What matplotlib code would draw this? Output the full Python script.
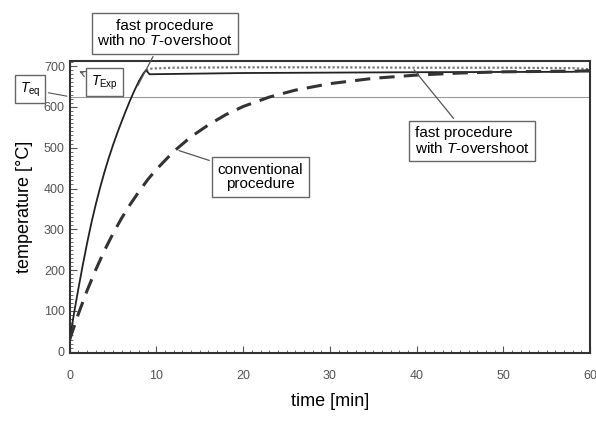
import numpy as np
import matplotlib
matplotlib.use("Agg")
import matplotlib.pyplot as plt
from matplotlib.ticker import MultipleLocator

plt.rcParams['font.family'] = ['Liberation Sans', 'DejaVu Sans']
plt.rcParams['mathtext.fontset'] = 'custom'
plt.rcParams['mathtext.rm'] = 'Liberation Sans'
plt.rcParams['mathtext.it'] = 'Liberation Sans:italic'

# fast procedure, no overshoot (solid)
t_fast = [0, 0.5, 1, 1.5, 2, 2.5, 3, 3.5, 4, 4.5, 5, 5.5, 6, 6.5, 7, 7.5, 8, 8.5, 8.8,
          9.2, 20, 40, 58, 60]
T_fast = [30, 95, 155, 212, 266, 316, 361, 402, 440, 475, 507, 537, 565, 592, 618, 642, 664, 682, 690,
          680, 683, 685, 686, 690]

# fast procedure with overshoot (dotted)
t_over = [8.8, 9.5, 12, 20, 30, 40, 50, 58, 60]
T_over = [690, 694, 696, 697, 697, 696, 696, 695, 692]

# conventional procedure (dashed)
t_conv = [0, 1, 2, 3, 4, 5, 6, 7, 8, 9, 10, 12, 14, 16, 18, 20, 23, 26, 30, 35, 40, 45, 50, 55, 60]
T_conv = [30, 93, 150, 201, 248, 290, 328, 362, 393, 422, 447, 491, 527, 556, 581, 601, 624, 641,
          657, 670, 678, 683, 686, 687, 688]

T_eq = 625

fig = plt.figure(figsize=(5.96, 4.22), dpi=100)
ax = fig.add_axes([0.117, 0.1635, 0.873, 0.6915])

ax.axhline(T_eq, color='#999999', lw=0.8, zorder=1)
ax.plot(t_fast, T_fast, color='#222222', lw=1.3, zorder=3)
ax.plot(t_over, T_over, color='#777777', lw=1.6, ls=(0, (1, 1)), zorder=2)
ax.plot(t_conv, T_conv, color='#333333', lw=2.2, ls=(0, (5, 3)), zorder=3)

ax.set_xlim(0, 60)
ax.set_ylim(-3, 712)
ax.xaxis.set_major_locator(MultipleLocator(10))
ax.xaxis.set_minor_locator(MultipleLocator(1))
ax.yaxis.set_major_locator(MultipleLocator(100))
ax.yaxis.set_minor_locator(MultipleLocator(10))
ax.tick_params(which='both', direction='in', colors='#555555', labelcolor='#555555', labelsize=9)
ax.tick_params(which='major', length=5, width=0.8)
ax.tick_params(which='minor', length=2.5, width=0.6)
ax.tick_params(axis='x', pad=12)
for s in ax.spines.values():
    s.set_linewidth(1.5)
    s.set_color('#333333')

ax.set_xlabel('time [min]', fontsize=13, labelpad=8)
ax.set_ylabel('temperature [°C]', fontsize=13, labelpad=8)

box = dict(boxstyle='square,pad=0.35', fc='white', ec='#666666', lw=1)
arr = dict(arrowstyle='-', color='#555555', lw=0.9)

ax.annotate('fast procedure\nwith no $T$-overshoot', xy=(7.7, 646), xytext=(11.0, 780),
            ha='center', va='center', fontsize=11, linespacing=1.05, bbox=box,
            arrowprops=arr, annotation_clip=False)
ax.annotate('fast procedure\nwith $T$-overshoot', xy=(39.5, 696), xytext=(46.4, 516),
            ha='center', va='center', multialignment='left', fontsize=11, linespacing=1.05,
            bbox=box, arrowprops=arr)
ax.annotate('conventional\nprocedure', xy=(12.3, 495), xytext=(22.0, 428),
            ha='center', va='center', fontsize=11, linespacing=1.05, bbox=box, arrowprops=arr)
ax.annotate(r'$T_{\mathrm{Exp}}$', xy=(0.8, 690), xytext=(4.0, 660),
            ha='center', va='center', fontsize=10, bbox=box,
            arrowprops=dict(arrowstyle='->', color='#555555', lw=0.8))
ax.annotate(r'$T_{\mathrm{eq}}$', xy=(0, T_eq), xytext=(-4.6, 643),
            ha='center', va='center', fontsize=10, bbox=box,
            arrowprops=dict(arrowstyle='-', color='#555555', lw=0.8),
            annotation_clip=False)

fig.savefig('out.png', dpi=100)
